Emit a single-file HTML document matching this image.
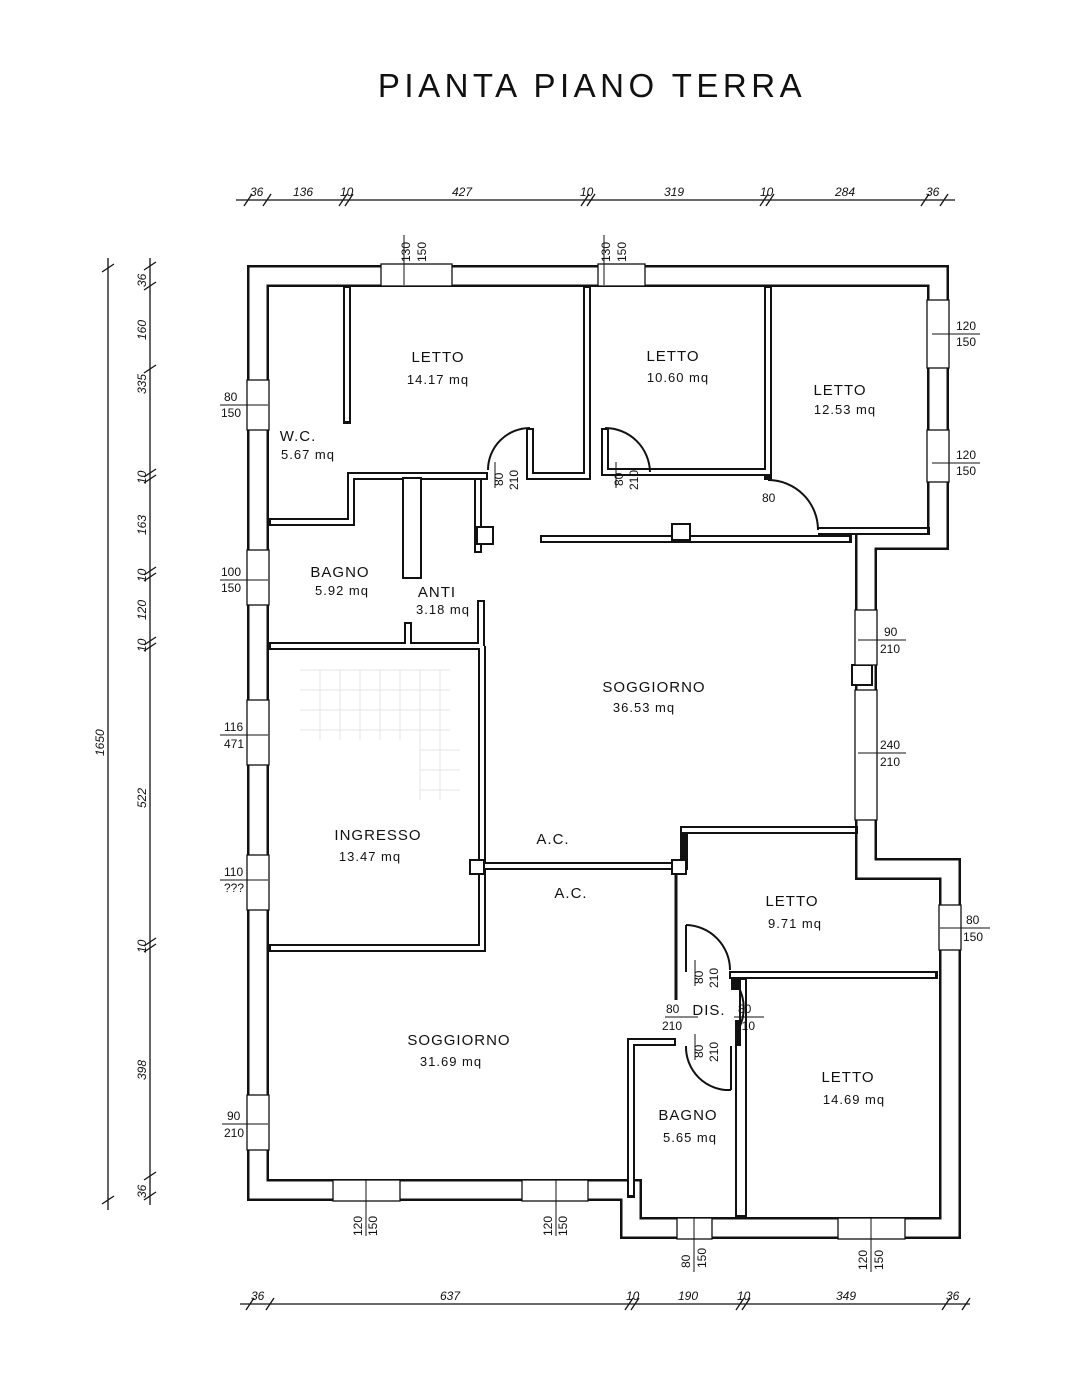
<!DOCTYPE html>
<html><head><meta charset="utf-8"><style>
html,body{margin:0;padding:0;background:#fff;}
svg{display:block;}
text{font-family:"Liberation Sans",sans-serif;fill:#111;}
.r{font-size:15px;}
.d{font-size:12px;}
.i{font-size:12px;font-style:italic;}
</style></head><body>
<svg width="1070" height="1377" viewBox="0 0 1070 1377" xmlns="http://www.w3.org/2000/svg">
<rect width="1070" height="1377" fill="#fff"/>
<text x="592" y="97" text-anchor="middle" style="font-size:33px;letter-spacing:4.5px">PIANTA PIANO TERRA</text>

<!-- stair faint -->
<g stroke="#e4e4e4" stroke-width="1" fill="none">
<path d="M300 670 H450 M300 690 H450 M300 710 H450 M300 730 H450 M420 750 H460 M420 770 H460 M420 790 H460 M320 670 V740 M340 670 V740 M360 670 V740 M380 670 V740 M400 670 V740 M420 670 V800 M440 670 V800"/>
</g>

<!-- exterior walls -->
<g fill="none" stroke-linejoin="miter" stroke-linecap="square">
<path d="M258 276 H938 V539 H866 V869 H950 V1228 H631 V1190 H258 Z" stroke="#111" stroke-width="22"/>
<path d="M258 276 H938 V539 H866 V869 H950 V1228 H631 V1190 H258 Z" stroke="#fff" stroke-width="17"/>
</g>

<!-- interior walls -->
<g fill="none" stroke-linecap="butt">
<g stroke="#111" stroke-width="8">
<path d="M347 285 V424"/>
<path d="M268 522 H351 V476 H488"/>
<path d="M530 428 V476 H587 V285"/>
<path d="M605 428 V472 H768 V285"/>
<path d="M768 285 V480"/>
<path d="M818 531 H930"/>
<path d="M540 539 H852"/>
<path d="M478 478 V553"/>
<path d="M268 646 H408 V622"/>
<path d="M408 646 H481 V600"/>
<path d="M482 646 V948 H268"/>
<path d="M478 866 H685"/>
<path d="M680 830 H858"/>
<path d="M684 830 V870"/>
<path d="M729 975 H938"/>
<path d="M743 978 V1218"/>
<path d="M676 1042 H631 V1198"/>
<path d="M739 1044 V1218"/>
<path d="M739 1020 V1044"/>
<path d="M735 975 V990"/>
</g>
<g stroke="#fff" stroke-width="4">
<path d="M347 288 V421"/>
<path d="M271 522 H351 V476 H486"/>
<path d="M530 430 V476 H587 V288"/>
<path d="M605 430 V472 H768 V288"/>
<path d="M818 531 H927"/>
<path d="M542 539 H849"/>
<path d="M478 480 V551"/>
<path d="M271 646 H408 V624"/>
<path d="M408 646 H481 V602"/>
<path d="M482 646 V948 H271"/>
<path d="M480 866 H683"/>
<path d="M682 830 H855"/>
<path d="M731 975 H935"/>
<path d="M743 980 V1215"/>
<path d="M674 1042 H631 V1195"/>
<path d="M739 1046 V1215"/>
</g>
</g>
<rect x="403" y="478" width="18" height="100" fill="#fff" stroke="#111" stroke-width="2"/>
<rect x="477" y="527" width="16" height="17" fill="#fff" stroke="#111" stroke-width="2"/>
<rect x="672" y="524" width="18" height="16" fill="#fff" stroke="#111" stroke-width="2"/>
<rect x="470" y="860" width="14" height="14" fill="#fff" stroke="#111" stroke-width="2"/>
<rect x="672" y="860" width="14" height="14" fill="#fff" stroke="#111" stroke-width="2"/>
<line x1="676" y1="874" x2="676" y2="1000" stroke="#111" stroke-width="3"/>
<rect x="852" y="665" width="20" height="20" fill="#fff" stroke="#111" stroke-width="2"/>

<!-- doors -->
<g fill="none" stroke="#111" stroke-width="2">
<path d="M530 428 A42 42 0 0 0 488 470"/>
<path d="M605 428 A45 45 0 0 1 650 472"/>
<path d="M768 480 A50 50 0 0 1 818 530"/>
<path d="M686 925 A45 45 0 0 1 730 970"/>
<path d="M738 986 A45 45 0 0 1 738 1030"/>
<path d="M686 1046 A43 43 0 0 0 731 1090"/>
<line x1="731" y1="1046" x2="731" y2="1090"/>
<line x1="686" y1="925" x2="686" y2="972"/>
</g>

<!-- windows -->
<g fill="#fff" stroke="#111" stroke-width="1.3">
<rect x="381" y="264" width="71" height="22"/><rect x="598" y="264" width="47" height="22"/>
<rect x="927" y="300" width="22" height="68"/><rect x="927" y="430" width="22" height="52"/>
<rect x="247" y="380" width="22" height="50"/><rect x="247" y="550" width="22" height="55"/>
<rect x="247" y="700" width="22" height="65"/><rect x="247" y="855" width="22" height="55"/>
<rect x="247" y="1095" width="22" height="55"/>
<rect x="855" y="610" width="22" height="55"/><rect x="855" y="690" width="22" height="130"/>
<rect x="939" y="905" width="22" height="45"/>
<rect x="333" y="1180" width="67" height="21"/><rect x="522" y="1180" width="66" height="21"/>
<rect x="677" y="1218" width="35" height="21"/><rect x="838" y="1218" width="67" height="21"/>
</g>

<!-- window/door labels -->
<g stroke="#111" stroke-width="1">
<line x1="404" y1="235" x2="404" y2="285"/><line x1="604" y1="235" x2="604" y2="285"/>
<line x1="932" y1="334" x2="980" y2="334"/><line x1="932" y1="463" x2="980" y2="463"/>
<line x1="220" y1="405" x2="268" y2="405"/><line x1="220" y1="580" x2="268" y2="580"/>
<line x1="220" y1="735" x2="268" y2="735"/><line x1="220" y1="880" x2="268" y2="880"/>
<line x1="222" y1="1124" x2="268" y2="1124"/>
<line x1="858" y1="640" x2="906" y2="640"/><line x1="858" y1="753" x2="906" y2="753"/>
<line x1="940" y1="928" x2="990" y2="928"/>
<line x1="366" y1="1180" x2="366" y2="1236"/><line x1="556" y1="1180" x2="556" y2="1236"/>
<line x1="694" y1="1218" x2="694" y2="1272"/><line x1="871" y1="1218" x2="871" y2="1272"/>
<line x1="495" y1="462" x2="495" y2="488"/><line x1="616" y1="462" x2="616" y2="488"/>
<line x1="695" y1="960" x2="695" y2="986"/><line x1="665" y1="1017" x2="698" y2="1017"/>
<line x1="734" y1="1017" x2="764" y2="1017"/><line x1="695" y1="1034" x2="695" y2="1060"/>
</g>
<g class="d">
<text transform="translate(410,262) rotate(-90)" class="d">130</text>
<text transform="translate(426,262) rotate(-90)" class="d">150</text>
<text transform="translate(610,262) rotate(-90)" class="d">130</text>
<text transform="translate(626,262) rotate(-90)" class="d">150</text>
<text x="956" y="330" class="d">120</text><text x="956" y="346" class="d">150</text>
<text x="956" y="459" class="d">120</text><text x="956" y="475" class="d">150</text>
<text x="224" y="401" class="d">80</text><text x="221" y="417" class="d">150</text>
<text x="221" y="576" class="d">100</text><text x="221" y="592" class="d">150</text>
<text x="224" y="731" class="d">116</text><text x="224" y="748" class="d">471</text>
<text x="224" y="876" class="d">110</text><text x="224" y="892" class="d">???</text>
<text x="227" y="1120" class="d">90</text><text x="224" y="1137" class="d">210</text>
<text x="884" y="636" class="d">90</text><text x="880" y="653" class="d">210</text>
<text x="880" y="749" class="d">240</text><text x="880" y="766" class="d">210</text>
<text x="966" y="924" class="d">80</text><text x="963" y="941" class="d">150</text>
<text transform="translate(362,1236) rotate(-90)" class="d">120</text>
<text transform="translate(377,1236) rotate(-90)" class="d">150</text>
<text transform="translate(552,1236) rotate(-90)" class="d">120</text>
<text transform="translate(567,1236) rotate(-90)" class="d">150</text>
<text transform="translate(690,1268) rotate(-90)" class="d">80</text>
<text transform="translate(706,1268) rotate(-90)" class="d">150</text>
<text transform="translate(867,1270) rotate(-90)" class="d">120</text>
<text transform="translate(883,1270) rotate(-90)" class="d">150</text>
<text transform="translate(503,486) rotate(-90)" class="d">80</text>
<text transform="translate(518,490) rotate(-90)" class="d">210</text>
<text transform="translate(623,486) rotate(-90)" class="d">80</text>
<text transform="translate(638,490) rotate(-90)" class="d">210</text>
<text x="762" y="502" class="d">80</text>
<text transform="translate(703,984) rotate(-90)" class="d">80</text>
<text transform="translate(718,988) rotate(-90)" class="d">210</text>
<text x="666" y="1013" class="d">80</text><text x="662" y="1030" class="d">210</text>
<text x="738" y="1013" class="d">80</text><text x="735" y="1030" class="d">210</text>
<text transform="translate(703,1058) rotate(-90)" class="d">80</text>
<text transform="translate(718,1062) rotate(-90)" class="d">210</text>
</g>

<!-- room labels -->
<g class="r" text-anchor="middle" style="letter-spacing:1px">
<text x="438" y="362">LETTO</text><text x="438" y="384" style="font-size:13px">14.17 mq</text>
<text x="673" y="361">LETTO</text><text x="678" y="382" style="font-size:13px">10.60 mq</text>
<text x="840" y="395">LETTO</text><text x="845" y="414" style="font-size:13px">12.53 mq</text>
<text x="298" y="441">W.C.</text><text x="308" y="459" style="font-size:13px">5.67 mq</text>
<text x="340" y="577">BAGNO</text><text x="342" y="595" style="font-size:13px">5.92 mq</text>
<text x="437" y="597">ANTI</text><text x="443" y="614" style="font-size:13px">3.18 mq</text>
<text x="654" y="692">SOGGIORNO</text><text x="644" y="712" style="font-size:13px">36.53 mq</text>
<text x="378" y="840">INGRESSO</text><text x="370" y="861" style="font-size:13px">13.47 mq</text>
<text x="553" y="844">A.C.</text><text x="571" y="898">A.C.</text>
<text x="792" y="906">LETTO</text><text x="795" y="928" style="font-size:13px">9.71 mq</text>
<text x="709" y="1015">DIS.</text>
<text x="459" y="1045">SOGGIORNO</text><text x="451" y="1066" style="font-size:13px">31.69 mq</text>
<text x="848" y="1082">LETTO</text><text x="854" y="1104" style="font-size:13px">14.69 mq</text>
<text x="688" y="1120">BAGNO</text><text x="690" y="1142" style="font-size:13px">5.65 mq</text>
</g>

<!-- dimension chains -->
<g stroke="#111" stroke-width="1.3" fill="none">
<line x1="236" y1="200" x2="955" y2="200"/>
<path d="M244 206 l8 -12 M263 206 l8 -12 M339 206 l8 -12 M345 206 l8 -12 M581 206 l8 -12 M587 206 l8 -12 M760 206 l8 -12 M766 206 l8 -12 M921 206 l8 -12 M940 206 l8 -12"/>
<line x1="108" y1="258" x2="108" y2="1210"/>
<path d="M102 272 l12 -8 M102 1204 l12 -8"/>
<line x1="150" y1="258" x2="150" y2="1205"/>
<path d="M144 290 l12 -8 M144 270 l12 -8 M144 373 l12 -8 M144 477 l12 -8 M144 483 l12 -8 M144 575 l12 -8 M144 581 l12 -8 M144 645 l12 -8 M144 651 l12 -8 M144 946 l12 -8 M144 952 l12 -8 M144 1180 l12 -8 M144 1200 l12 -8"/>
<line x1="240" y1="1304" x2="970" y2="1304"/>
<path d="M246 1310 l8 -12 M266 1310 l8 -12 M625 1310 l8 -12 M631 1310 l8 -12 M736 1310 l8 -12 M742 1310 l8 -12 M942 1310 l8 -12 M962 1310 l8 -12"/>
</g>
<g class="i">
<text x="250" y="196">36</text><text x="293" y="196">136</text><text x="340" y="196">10</text>
<text x="452" y="196">427</text><text x="580" y="196">10</text><text x="664" y="196">319</text>
<text x="760" y="196">10</text><text x="835" y="196">284</text><text x="926" y="196">36</text>
<text x="251" y="1300">36</text><text x="440" y="1300">637</text><text x="626" y="1300">10</text>
<text x="678" y="1300">190</text><text x="737" y="1300">10</text><text x="836" y="1300">349</text><text x="946" y="1300">36</text>
<text transform="translate(104,756) rotate(-90)">1650</text>
<text transform="translate(146,287) rotate(-90)">36</text>
<text transform="translate(146,340) rotate(-90)">160</text>
<text transform="translate(146,394) rotate(-90)">335</text>
<text transform="translate(146,484) rotate(-90)">10</text>
<text transform="translate(146,535) rotate(-90)">163</text>
<text transform="translate(146,582) rotate(-90)">10</text>
<text transform="translate(146,620) rotate(-90)">120</text>
<text transform="translate(146,652) rotate(-90)">10</text>
<text transform="translate(146,808) rotate(-90)">522</text>
<text transform="translate(146,953) rotate(-90)">10</text>
<text transform="translate(146,1080) rotate(-90)">398</text>
<text transform="translate(146,1198) rotate(-90)">36</text>
</g>
</svg>
</body></html>
